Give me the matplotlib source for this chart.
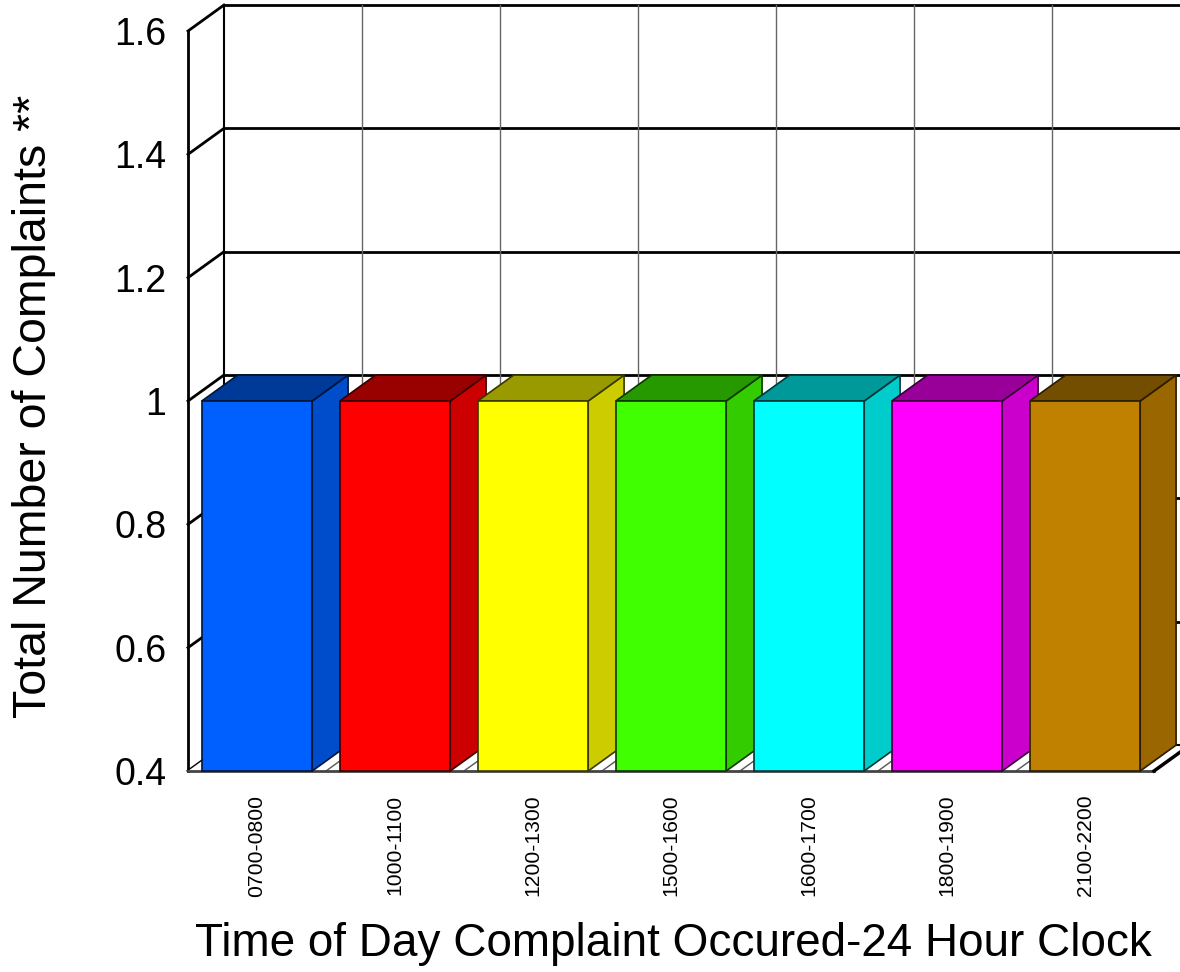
import matplotlib
matplotlib.use("Agg")
import matplotlib.pyplot as plt
from matplotlib.patches import Polygon
import matplotlib.colors as mcolors
import numpy as np

plt.rcParams['font.family'] = ['Liberation Sans', 'DejaVu Sans']

categories = ["0700-0800", "1000-1100", "1200-1300", "1500-1600",
              "1600-1700", "1800-1900", "2100-2200"]
values = [1, 1, 1, 1, 1, 1, 1]
bar_colors = ["#0060FF", "#FF0000", "#FFFF00", "#40FF00",
              "#00FFFF", "#FF00FF", "#C08000"]
yticks = [0.4, 0.6, 0.8, 1.0, 1.2, 1.4, 1.6]
ytick_labels = ["0.4", "0.6", "0.8", "1", "1.2", "1.4", "1.6"]
xlabel = "Time of Day Complaint Occured-24 Hour Clock"
ylabel = "Total Number of Complaints **"

W, H = 1180, 972
fig = plt.figure(figsize=(W / 100, H / 100), dpi=100)
ax = fig.add_axes([188 / W, (H - 771) / H, 966 / W, 740 / H])
n = len(categories)
ymin, ymax = 0.4, 1.6
ax.set_xlim(0, n)
ax.set_ylim(ymin, ymax)
for s in ax.spines.values():
    s.set_visible(False)

# oblique depth offset in data units
DX = 0.26
DY = 0.042

def shade(c, f):
    r, g, b = mcolors.to_rgb(c)
    return (r * f, g * f, b * f)

# back wall
for y in yticks:
    ax.plot([DX, n + DX], [y + DY, y + DY], color="black", lw=2, zorder=1, clip_on=False)
for i in range(1, n):
    ax.plot([i + DX, i + DX], [ymin + DY, ymax + DY], color="#666666", lw=1, zorder=1, clip_on=False)
ax.plot([DX, DX], [ymin + DY, ymax + DY], color="black", lw=1.5, zorder=1, clip_on=False)

# left wall
for y in yticks:
    ax.plot([0, DX], [y, y + DY], color="black", lw=2, zorder=2, clip_on=False)
ax.plot([0, 0], [ymin, ymax], color="black", lw=2, zorder=2, clip_on=False)

# floor
floor = Polygon([(0, ymin), (n, ymin), (n + DX, ymin + DY), (DX, ymin + DY)],
                closed=True, facecolor="white", edgecolor="none", zorder=2, clip_on=False)
ax.add_patch(floor)
for i in range(1, n):
    ax.plot([i, i + DX], [ymin, ymin + DY], color="#555555", lw=1, zorder=2.1, clip_on=False)
ax.plot([0, n], [ymin, ymin], color="#444444", lw=2, zorder=2.2, clip_on=False)
ax.plot([n, n + DX], [ymin, ymin + DY], color="black", lw=2.5, zorder=2.2, clip_on=False)
ax.plot([DX, n + DX], [ymin + DY, ymin + DY], color="black", lw=1.5, zorder=2.2, clip_on=False)

# bars
bw = 0.8
for i, (v, c) in enumerate(zip(values, bar_colors)):
    x0 = i + 0.5 - bw / 2
    x1 = i + 0.5 + bw / 2
    ec = shade(c, 0.22)
    z = 3 + i * 0.1
    side = Polygon([(x1, ymin), (x1, v), (x1 + DX, v + DY), (x1 + DX, ymin + DY)],
                   closed=True, facecolor=shade(c, 0.8), edgecolor=ec, lw=1.2,
                   zorder=z, clip_on=False)
    top = Polygon([(x0, v), (x1, v), (x1 + DX, v + DY), (x0 + DX, v + DY)],
                  closed=True, facecolor=shade(c, 0.6), edgecolor=ec, lw=1.2,
                  zorder=z + 0.01, clip_on=False)
    front = Polygon([(x0, ymin), (x1, ymin), (x1, v), (x0, v)],
                    closed=True, facecolor=c, edgecolor=ec, lw=1.2,
                    zorder=z + 0.02, clip_on=False)
    ax.add_patch(side)
    ax.add_patch(top)
    ax.add_patch(front)

ax.set_yticks(yticks)
ax.set_yticklabels(ytick_labels, fontsize=27)
ax.set_xticks(np.arange(n) + 0.5)
ax.set_xticklabels(categories, rotation=90, fontsize=15.2)
ax.tick_params(axis="y", length=0, pad=15.5)
ax.tick_params(axis="x", length=0, pad=17)
for lab in ax.get_xticklabels():
    lab.set_verticalalignment("top")

fig.text(673 / W, 1 - 944 / H, xlabel, fontsize=33, ha="center", va="center")
fig.text(34 / W, 1 - 406 / H, ylabel, fontsize=33.5, ha="center", va="center", rotation=90)

fig.savefig("out.png", dpi=100)
